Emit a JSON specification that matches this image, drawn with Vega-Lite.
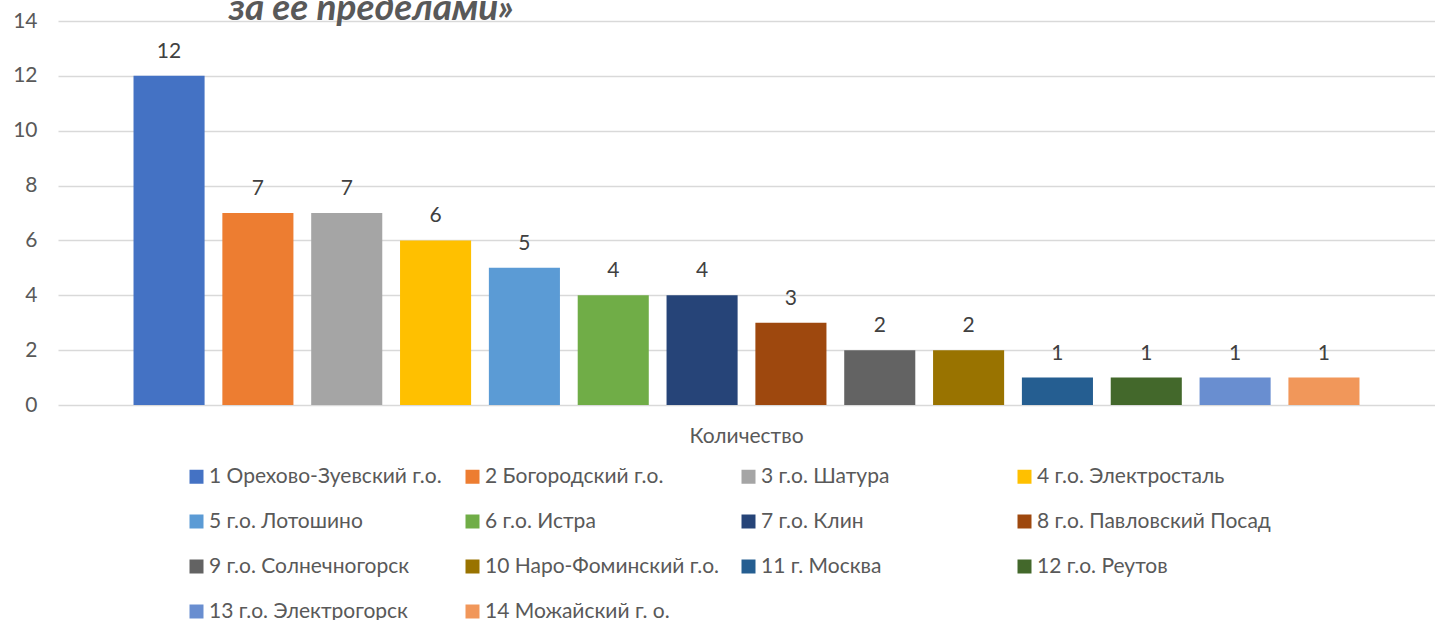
{
  "$schema": "https://vega.github.io/schema/vega-lite/v6.json",
  "width": 1377,
  "height": 384,
  "autosize": {"type": "none"},
  "padding": {"left": 58, "top": 21, "right": 0, "bottom": 215},
  "background": "white",
  "config": {"view": {"stroke": null}, "font": "Lato"},
  "title": {
    "text": "за ее пределами»",
    "anchor": "start",
    "dx": 216,
    "dy": 47,
    "offset": 0,
    "baseline": "alphabetic",
    "fontSize": 37,
    "font": "Lato",
    "fontStyle": "italic",
    "fontWeight": "bold",
    "color": "#595959"
  },
  "data": {
    "values": [
      {"cat": "Количество", "series": "1 Орехово-Зуевский г.о.", "value": 12},
      {"cat": "Количество", "series": "2 Богородский г.о.", "value": 7},
      {"cat": "Количество", "series": "3 г.о. Шатура", "value": 7},
      {"cat": "Количество", "series": "4 г.о. Электросталь", "value": 6},
      {"cat": "Количество", "series": "5 г.о. Лотошино", "value": 5},
      {"cat": "Количество", "series": "6 г.о. Истра", "value": 4},
      {"cat": "Количество", "series": "7 г.о. Клин", "value": 4},
      {"cat": "Количество", "series": "8 г.о. Павловский Посад", "value": 3},
      {"cat": "Количество", "series": "9 г.о. Солнечногорск", "value": 2},
      {"cat": "Количество", "series": "10 Наро-Фоминский г.о.", "value": 2},
      {"cat": "Количество", "series": "11 г. Москва", "value": 1},
      {"cat": "Количество", "series": "12 г.о. Реутов", "value": 1},
      {"cat": "Количество", "series": "13 г.о. Электрогорск", "value": 1},
      {"cat": "Количество", "series": "14 Можайский г. о.", "value": 1}
    ]
  },
  "encoding": {
    "x": {
      "field": "cat",
      "type": "nominal",
      "scale": {"paddingInner": 0, "paddingOuter": 0.052},
      "axis": {
        "title": null,
        "labelAngle": 0,
        "domain": false,
        "ticks": false,
        "labelPadding": 20,
        "labelFontSize": 21,
        "labelColor": "#595959",
        "labelFont": "Lato"
      }
    },
    "xOffset": {
      "field": "series",
      "type": "nominal",
      "sort": null,
      "scale": {"paddingInner": 0.2, "paddingOuter": 0.12}
    },
    "y": {
      "field": "value",
      "type": "quantitative",
      "scale": {"domain": [0, 14], "nice": false},
      "axis": {
        "values": [0, 2, 4, 6, 8, 10, 12, 14],
        "title": null,
        "domain": false,
        "ticks": false,
        "labelPadding": 21,
        "labelFontSize": 21,
        "labelColor": "#595959",
        "labelFont": "Lato",
        "gridColor": "#D9D9D9",
        "gridWidth": 1.5
      }
    }
  },
  "layer": [
    {
      "mark": {"type": "bar"},
      "encoding": {
        "color": {
          "field": "series",
          "type": "nominal",
          "scale": {
            "domain": ["1 Орехово-Зуевский г.о.", "2 Богородский г.о.", "3 г.о. Шатура", "4 г.о. Электросталь", "5 г.о. Лотошино", "6 г.о. Истра", "7 г.о. Клин", "8 г.о. Павловский Посад", "9 г.о. Солнечногорск", "10 Наро-Фоминский г.о.", "11 г. Москва", "12 г.о. Реутов", "13 г.о. Электрогорск", "14 Можайский г. о."],
            "range": ["#4472C4", "#ED7D31", "#A5A5A5", "#FFC000", "#5B9BD5", "#70AD47", "#264478", "#9E480E", "#636363", "#997300", "#255E91", "#43682B", "#698ED0", "#F1975A"]
          },
          "legend": {
            "title": null,
            "orient": "none",
            "legendX": 128,
            "legendY": 445,
            "direction": "horizontal",
            "columns": 4,
            "gridAlign": "all",
            "columnPadding": 18,
            "rowPadding": 23,
            "symbolType": "square",
            "symbolSize": 196,
            "symbolStrokeWidth": 0,
            "symbolOffset": 0,
            "labelOffset": 2,
            "labelFontSize": 21,
            "labelFont": "Lato",
            "labelColor": "#595959",
            "labelLimit": 400
          }
        }
      }
    },
    {
      "mark": {"type": "text", "baseline": "alphabetic", "dy": -18, "fontSize": 21, "font": "Lato", "color": "#404040"},
      "encoding": {"text": {"field": "value", "type": "quantitative"}}
    }
  ]
}
